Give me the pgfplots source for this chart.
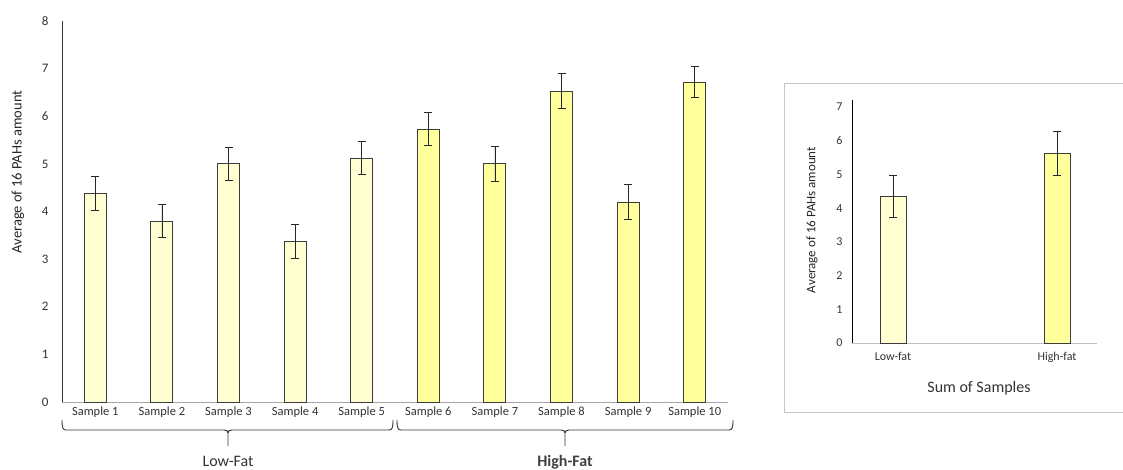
\documentclass[border=0pt]{standalone}
\usepackage{pgfplots}
\pgfplotsset{compat=1.18}
\usepackage{fontspec}
\setmainfont{Carlito}
\definecolor{paleY}{HTML}{FFFFD2}
\definecolor{brightY}{HTML}{FFFF9C}
\definecolor{edgeC}{HTML}{3C3C3C}
\pgfplotsset{
  errstyle/.style={error bars/.cd, y dir=both, y explicit,
    error bar style={black!85, line width=0.8pt},
    error mark options={black!85, rotate=90, mark size=4pt, line width=0.8pt}},
}
\begin{document}
\begin{tikzpicture}[x=1pt,y=1pt]
\useasboundingbox (0,0) rectangle (1123,469);
% ---------- left chart ----------
\begin{axis}[
  at={(62pt,67pt)}, anchor=origin,
  scale only axis, width=666pt, height=381pt,
  xmin=0.5, xmax=10.5, ymin=0, ymax=8,
  axis x line=bottom, axis y line=left,
  axis line style={-},
  x axis line style={draw=gray!70},
  y axis line style={draw=black!80, line width=0.8pt},
  major tick length=0pt,
  ytick={0,...,8},
  xtick={1,...,10},
  xticklabels={Sample 1,Sample 2,Sample 3,Sample 4,Sample 5,Sample 6,Sample 7,Sample 8,Sample 9,Sample 10},
  xticklabel style={font=\fontsize{12.5}{13}\selectfont, text=black!80, yshift=-1pt},
  yticklabel style={font=\fontsize{13}{14}\selectfont, text=black!80, xshift=-10pt},
  /pgf/number format/assume math mode=true,
  ybar, bar width=22pt,
  clip=false,
]
\addplot[fill=paleY, draw=edgeC, line width=0.9pt, bar shift=0pt, errstyle]
  coordinates {
  (1,4.38) +- (0,0.36)
  (2,3.80) +- (0,0.34)
  (3,5.00) +- (0,0.35)
  (4,3.37) +- (0,0.35)
  (5,5.12) +- (0,0.35)
  };
\addplot[fill=brightY, draw=edgeC, line width=0.9pt, bar shift=0pt, errstyle]
  coordinates {
  (6,5.73) +- (0,0.35)
  (7,5.00) +- (0,0.36)
  (8,6.53) +- (0,0.36)
  (9,4.20) +- (0,0.36)
  (10,6.72) +- (0,0.33)
  };
\end{axis}
\node[rotate=90, font=\fontsize{14.5}{15}\selectfont, text=black!85] at (18,297) {Average of 16 PAHs amount};
% braces
\draw[black!80, line width=0.9pt] (62,49) .. controls (62,41) and (63,39) .. (66,39) -- (224,39) .. controls (227,39) and (228,38) .. (228,36) -- (228,23);
\draw[black!80, line width=0.9pt] (228,36) .. controls (228,38) and (229,39) .. (232,39) -- (389,39) .. controls (392,39) and (393,41) .. (393,49);
\draw[black!80, line width=0.9pt] (397,49) .. controls (397,41) and (398,39) .. (401,39) -- (561,39) .. controls (564,39) and (565,38) .. (565,36) -- (565,23);
\draw[black!80, line width=0.9pt] (565,36) .. controls (565,38) and (566,39) .. (569,39) -- (729,39) .. controls (732,39) and (733,41) .. (733,49);
\node[font=\fontsize{16}{17}\selectfont, text=black!80] at (228,8) {Low-Fat};
\node[font=\fontsize{16}{17}\selectfont\bfseries, text=black!75] at (565,7) {High-Fat};
% ---------- right chart ----------
\draw[gray!45, line width=0.8pt] (1123,386) -- (784,386) -- (784,57) -- (1123,57);
\begin{axis}[
  at={(852pt,126pt)}, anchor=origin,
  scale only axis, width=245pt, height=242.6pt,
  xmin=0.75, xmax=2.244, ymin=0, ymax=7.2,
  axis x line=bottom, axis y line=left,
  axis line style={-},
  x axis line style={draw=gray!50},
  y axis line style={draw=black, line width=1pt},
  major tick length=0pt,
  ytick={0,...,7},
  xtick={1,2},
  xticklabels={Low-fat,High-fat},
  xticklabel style={font=\fontsize{12}{13}\selectfont, text=black!80, yshift=-6pt},
  yticklabel style={font=\fontsize{12}{13}\selectfont, text=black!80, xshift=-6pt},
  /pgf/number format/assume math mode=true,
  ybar, bar width=26pt,
  clip=false,
]
\addplot[fill=paleY, draw=edgeC, line width=0.9pt, bar shift=0pt, errstyle]
  coordinates {(1,4.35) +- (0,0.63)};
\addplot[fill=brightY, draw=edgeC, line width=0.9pt, bar shift=0pt, errstyle]
  coordinates {(2,5.63) +- (0,0.65)};
\end{axis}
\node[rotate=90, font=\fontsize{13}{14}\selectfont, text=black!85] at (812,249) {Average of 16 PAHs amount};
\node[font=\fontsize{16}{17}\selectfont, text=black!80] at (979,81) {Sum of Samples};
\end{tikzpicture}
\end{document}
